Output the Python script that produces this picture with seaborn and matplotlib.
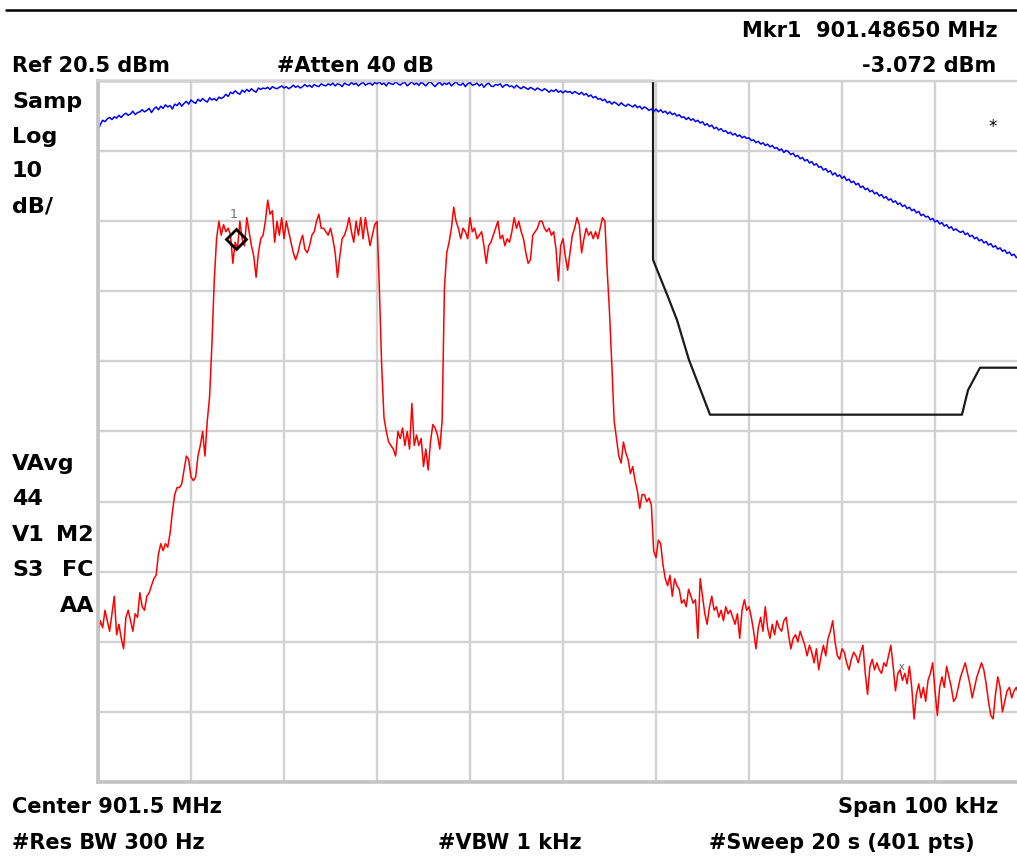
import numpy as np
import pandas as pd
import matplotlib
matplotlib.use("Agg")
import matplotlib.pyplot as plt
from matplotlib.lines import Line2D
import seaborn as sns

# ---------------- data ----------------
center_mhz = 901.5
span_mhz = 0.1
n_pts = 401
ref_dbm = 20.5
db_per_div = 10

red_trace = [
    -58.5, -56.5, -57.5, -55.0, -56.5, -58.0, -55.5, -53.0, -58.5, -57.0,
    -59.0, -60.5, -56.0, -55.0, -56.5, -58.0, -55.5, -56.0, -52.5, -54.5,
    -55.0, -53.0, -52.5, -51.5, -50.5, -50.0, -47.0, -45.5, -46.5, -45.5,
    -46.0, -44.0, -41.0, -38.5, -37.5, -37.5, -37.0, -35.0, -33.0, -33.5,
    -36.0, -36.5, -36.0, -33.0, -31.5, -29.5, -33.0, -28.0, -24.5, -17.0,
    -8.0, -2.0, 0.5, -1.5, 0.0, -1.0, -0.5, -1.5, -5.5, -2.5,
    -3.5, 0.5, -2.0, -3.0, 1.0, -1.0, -3.0, -4.5, -7.5, -4.0,
    -2.0, -1.5, 0.5, 3.5, 1.5, 2.0, -2.5, 0.5, -1.5, 1.0,
    -2.0, 0.5, -1.0, -2.5, -4.0, -5.0, -4.0, -2.5, -1.5, -3.5,
    -4.0, -3.0, -1.5, -1.0, 0.5, 1.5, -0.5, -0.5, -1.0, -1.5,
    -0.5, -2.0, -4.0, -7.5, -4.5, -2.0, -1.5, -0.5, 1.0, -1.0,
    -2.5, 0.5, -1.5, 1.0, -2.0, 1.0, -1.0, -3.0, -1.5, 0.0,
    0.5, -9.0, -20.0, -27.5, -29.5, -31.0, -31.5, -32.0, -33.0, -29.5,
    -30.5, -29.0, -31.5, -29.5, -32.0, -25.5, -31.5, -30.0, -31.5, -30.5,
    -34.5, -32.0, -35.0, -31.0, -28.5, -29.0, -30.0, -32.0, -28.0, -9.0,
    -4.0, -2.5, -0.5, 2.5, 0.5, -0.5, -2.0, -0.5, -1.0, -2.0,
    1.0, -1.0, -0.5, -2.0, -1.5, -1.0, -3.0, -5.5, -3.0, -2.5,
    -1.5, -0.5, 0.5, -2.0, -1.5, -3.0, -2.0, -2.5, -1.0, 1.0,
    -0.5, 0.5, -1.0, -2.0, -4.0, -5.5, -5.0, -1.5, -1.0, -0.5,
    0.5, 0.5, -0.5, -1.0, -0.5, -1.5, -1.0, -3.5, -8.0, -3.0,
    -2.0, -4.5, -6.5, -4.0, -1.5, -0.5, 1.0, 0.0, -4.0, -2.0,
    -0.5, -1.5, -1.0, -2.0, -1.0, -2.0, -0.5, 1.0, 0.5, -6.5,
    -12.5, -20.0, -28.0, -30.5, -33.0, -34.0, -31.0, -32.5, -33.5, -35.5,
    -34.5, -36.5, -38.0, -40.5, -38.5, -38.5, -39.5, -39.0, -40.0, -46.5,
    -47.5, -45.0, -45.5, -48.5, -50.5, -51.5, -50.0, -53.0, -50.5, -51.5,
    -52.0, -54.0, -53.5, -54.5, -52.0, -53.0, -54.0, -53.5, -59.0, -50.5,
    -53.0, -55.5, -57.0, -54.5, -53.0, -55.0, -54.5, -56.0, -55.0, -56.5,
    -54.5, -55.5, -55.0, -56.0, -57.0, -55.5, -59.0, -55.0, -53.5, -55.0,
    -54.5, -56.0, -58.0, -60.5, -57.5, -56.0, -58.0, -54.5, -57.5, -59.0,
    -57.0, -58.5, -56.5, -57.5, -58.0, -56.5, -56.0, -58.5, -60.5, -59.0,
    -58.5, -59.5, -58.0, -59.0, -60.0, -61.5, -60.0, -61.0, -62.5, -60.5,
    -63.5, -61.5, -60.0, -61.5, -59.0, -58.0, -56.5, -59.5, -61.5, -62.0,
    -60.5, -61.0, -62.5, -63.5, -62.0, -61.0, -61.5, -62.5, -61.0, -60.0,
    -64.0, -67.0, -63.0, -62.0, -63.5, -62.5, -63.5, -64.0, -62.5, -63.0,
    -61.5, -60.0, -63.0, -66.5, -64.0, -63.5, -65.0, -64.0, -65.5, -63.0,
    -66.0, -70.5, -67.0, -65.5, -67.5, -66.0, -68.0, -65.0, -64.0, -62.5,
    -66.5, -70.0, -66.0, -64.5, -66.0, -63.0, -64.5, -66.0, -68.0, -67.5,
    -66.0, -64.5, -63.5, -62.5, -64.0, -65.5, -67.5, -66.0, -64.5, -63.5,
    -62.5, -63.5, -65.5, -68.0, -70.0, -70.5, -67.0, -64.5, -66.0, -69.5,
    -68.0, -66.5, -66.0, -67.5, -66.5, -66.0, -67.0, -68.5, -67.0, -66.0,
    -67.5,
]

blue_trace = [
    13.5, 14.3, 14.9, 14.7, 15.1, 15.3, 15.0, 15.4, 15.2, 15.6,
    15.3, 15.7, 15.9, 15.6, 15.8, 16.2, 15.7, 16.0, 16.1, 16.4,
    16.1, 16.3, 16.6, 16.0, 16.5, 16.8, 16.4, 16.9, 16.6, 17.1,
    16.8, 17.0, 16.5, 17.2, 17.0, 17.4, 16.9, 17.3, 17.6, 17.2,
    17.8, 17.5, 17.3, 17.9, 17.6, 18.0, 17.7, 17.5, 18.1, 17.8,
    18.0, 17.7, 18.2, 18.0, 18.2, 18.6, 18.3, 18.9, 18.7, 19.1,
    18.8, 18.6, 19.2, 18.9, 19.3, 19.0, 19.4, 19.1, 18.9, 19.5,
    19.3, 19.5, 19.4, 19.6, 19.3, 19.7, 19.5, 19.4, 19.6, 19.8,
    19.5, 19.7, 19.4, 19.6, 19.9, 19.6, 19.8, 19.5, 19.7, 20.0,
    19.7, 19.9, 19.6, 20.0, 19.8, 19.7, 20.1, 19.9, 19.8, 20.1,
    19.9, 20.2, 19.8, 20.1, 20.0, 19.7, 20.2, 20.0, 19.9, 20.3,
    20.0, 20.2, 19.8, 20.1, 20.3, 19.9, 20.1, 20.2, 19.9, 20.3,
    20.1, 20.4, 20.0, 20.2, 19.8, 20.3, 20.1, 20.0, 20.4, 20.1,
    19.9, 20.2, 20.3, 19.8, 20.1, 20.4, 20.0, 20.2, 19.9, 20.3,
    20.1, 19.8, 20.2, 20.4, 20.0, 19.7, 20.1, 20.3, 19.9, 20.2,
    20.0, 20.3, 19.8, 20.1, 20.4, 20.0, 19.9, 20.2, 19.7, 20.1,
    20.3, 19.9, 20.0, 20.2, 19.8, 20.1, 19.6, 20.0, 20.2, 19.8,
    19.7, 20.0, 19.9, 20.1, 19.6, 19.9, 20.0, 19.7, 19.8, 19.5,
    19.9, 19.6, 19.4, 19.7, 19.5, 19.3, 19.6, 19.4, 19.2, 19.5,
    19.3, 19.1, 19.4, 19.2, 18.9, 19.2, 19.0, 19.3, 18.9, 19.1,
    18.8, 19.1, 18.9, 19.0, 18.7, 19.0, 18.8, 18.6, 18.9, 18.5,
    18.7, 18.3, 18.5, 18.1, 18.3, 17.9, 18.0, 17.7, 17.9, 17.4,
    17.6, 17.2, 17.5, 17.3, 17.0, 17.4, 17.1, 16.9, 17.2, 17.0,
    16.8, 17.1, 16.7, 16.9, 16.5, 16.8, 16.6, 16.3, 16.5, 16.1,
    16.5, 16.1, 16.4, 16.0, 16.2, 15.8, 16.1, 15.7, 15.9, 15.5,
    15.7, 15.3, 15.4, 15.0, 15.3, 14.9, 15.1, 14.7, 14.9, 14.5,
    14.7, 14.2, 14.4, 14.0, 14.2, 13.7, 13.9, 13.5, 13.7, 13.3,
    13.4, 13.0, 13.2, 12.8, 13.0, 12.6, 12.8, 12.4, 12.6, 12.3,
    12.4, 12.0, 12.1, 11.7, 11.9, 11.5, 11.7, 11.3, 11.5, 11.1,
    11.3, 10.9, 11.0, 10.6, 10.8, 10.3, 10.6, 10.4, 10.0, 10.2,
    9.7, 9.9, 9.4, 9.6, 9.1, 9.3, 8.8, 9.0, 8.5, 8.7,
    8.2, 8.3, 7.8, 8.0, 7.5, 7.7, 7.1, 7.4, 6.9, 7.1,
    6.6, 6.9, 6.3, 6.5, 6.0, 6.2, 5.7, 5.9, 5.3, 5.5,
    5.0, 5.2, 4.7, 4.9, 4.4, 4.6, 4.1, 4.3, 3.8, 4.0,
    3.5, 3.7, 3.2, 3.4, 2.9, 3.1, 2.6, 2.8, 2.3, 2.5,
    2.0, 2.2, 1.7, 1.9, 1.3, 1.5, 1.1, 1.2, 0.7, 0.9,
    0.4, 0.6, 0.1, 0.3, -0.2, 0.0, -0.5, -0.3, -0.8, -0.6,
    -0.9, -1.1, -0.9, -1.4, -1.2, -1.7, -1.5, -2.0, -1.8, -2.3,
    -2.1, -2.6, -2.4, -2.9, -2.7, -3.2, -3.0, -3.5, -3.3, -3.8,
    -3.6, -4.1, -3.9, -4.4, -4.2, -4.7, -4.5, -5.0, -4.8, -5.3,
    -5.1,
]

limit_freq = [901.45000, 901.50968, 901.50968, 901.51129, 901.51226,
              901.51355, 901.51581, 901.54290, 901.54355, 901.54484, 901.55000]
limit_dbm = [20.5, 20.5, -5.0, -10.3, -13.6, -19.3, -27.1, -27.1, -23.6, -20.4, -20.4]

marker1_freq = [901.4648]
marker1_dbm = [-2.1]
marker2_freq = [901.53645]
marker2_dbm = [-63.1]

# ---------------- figure ----------------
W, H = 1017, 858
sns.set_style("white")
fam = ["DejaVu Sans"]
plt.rcParams["font.family"] = fam

freq = np.linspace(center_mhz - span_mhz / 2, center_mhz + span_mhz / 2, n_pts)
df = pd.DataFrame({"freq": freq, "red": red_trace, "blue": blue_trace})
lim = pd.DataFrame({"freq": limit_freq, "dbm": limit_dbm})

fig = plt.figure(figsize=(W / 100, H / 100), dpi=100)
ax = fig.add_axes([98 / W, (H - 782) / H, 930 / W, 701 / H])

bottom_dbm = ref_dbm - 10 * db_per_div
ax.set_xlim(freq[0], freq[-1])
ax.set_ylim(bottom_dbm, ref_dbm)
ax.set_xticks(np.linspace(freq[0], freq[-1], 11))
ax.set_yticks(ref_dbm - db_per_div * np.arange(11))
ax.grid(True, color="#d2d2d2", lw=1.7)
ax.set_axisbelow(True)
ax.tick_params(length=0, labelbottom=False, labelleft=False)
for s in ["left", "bottom"]:
    ax.spines[s].set_color("#c4c4c4")
    ax.spines[s].set_linewidth(2.6)
ax.spines["top"].set_color("#d2d2d2")
ax.spines["top"].set_linewidth(1.7)
ax.spines["right"].set_visible(False)

sns.lineplot(data=lim, x="freq", y="dbm", color="#1a1a1a", lw=1.6,
             estimator=None, sort=False, ax=ax, clip_on=False)
sns.lineplot(data=df, x="freq", y="blue", color="#0000ff", lw=1.1,
             estimator=None, sort=False, ax=ax)
sns.lineplot(data=df, x="freq", y="red", color="#ff0000", lw=1.1,
             estimator=None, sort=False, ax=ax)
ax.set_xlabel("")
ax.set_ylabel("")

ax.plot(marker1_freq, marker1_dbm, marker="D", ms=10, mfc="none",
        mec="black", mew=2.0, ls="none")
ax.annotate("1", (marker1_freq[0], marker1_dbm[0]), xytext=(-2, 25),
            textcoords="offset pixels", ha="center", va="center",
            fontsize=9, color="#707070")
ax.annotate("x", (marker2_freq[0], marker2_dbm[0]), xytext=(0, 0),
            textcoords="offset pixels", ha="center", va="center",
            fontsize=7, color="#606060")

# top rule
fig.add_artist(Line2D([6 / W, 1.0], [1 - 10 / H] * 2, color="black", lw=1.8))


def txt(x, y, s, ha="left", size=15.0):
    fig.text(x / W, 1 - y / H, s, ha=ha, va="baseline", fontsize=size,
             fontweight="bold", color="black")


txt(998, 37, "Mkr1  901.48650 MHz", ha="right")
txt(12, 72, "Ref 20.5 dBm")
txt(277, 72, "#Atten 40 dB")
txt(996, 72, "-3.072 dBm", ha="right")
txt(12, 813, "Center 901.5 MHz")
txt(998, 813, "Span 100 kHz", ha="right")
txt(12, 849, "#Res BW 300 Hz")
txt(438, 849, "#VBW 1 kHz")
txt(709, 849, "#Sweep 20 s (401 pts)")

for yy, s in [(108, "Samp"), (143, "Log"), (177, "10"), (212, "dB/"),
              (470, "VAvg"), (505, "44"), (541, "V1"), (576, "S3")]:
    txt(12, yy, s, size=16)
txt(94, 541, "M2", ha="right", size=16)
txt(94, 576, "FC", ha="right", size=16)
txt(94, 612, "AA", ha="right", size=16)

fig.text(993 / W, 1 - 127 / H, "*", ha="center", va="center", fontsize=12,
         color="black")

fig.savefig("out.png", dpi=100)
